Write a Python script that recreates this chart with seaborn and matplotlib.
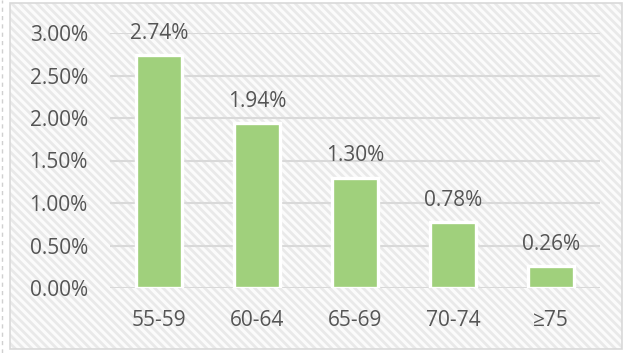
import matplotlib
matplotlib.use("Agg")
import matplotlib.pyplot as plt
import seaborn as sns
import pandas as pd
from matplotlib.patches import Rectangle
from matplotlib.lines import Line2D

# Data
age_groups = ["55-59", "60-64", "65-69", "70-74", "≥75"]
rates = [2.74, 1.94, 1.30, 0.78, 0.26]
y_ticks = [0.0, 0.5, 1.0, 1.5, 2.0, 2.5, 3.0]

df = pd.DataFrame({"age": age_groups, "rate": rates})

sns.set_theme(style="white")
plt.rcParams["font.family"] = ["Open Sans", "DejaVu Sans"]
plt.rcParams["hatch.linewidth"] = 2.0

W, H = 628, 353
fig = plt.figure(figsize=(W / 100, H / 100), dpi=100, facecolor="white")

# Striped chart-area background with a thin border
bg = Rectangle((10 / W, 1 - 349 / H), 612 / W, 346 / H, transform=fig.transFigure,
               facecolor="#fbfbfb", edgecolor="#e9e9e9", hatch="\\\\\\\\",
               linewidth=0, zorder=-2)
fig.patches.append(bg)
border = Rectangle((10 / W, 1 - 349 / H), 612 / W, 346 / H, transform=fig.transFigure,
                   facecolor="none", edgecolor="#d9d9d9", linewidth=1.2, zorder=-1)
fig.patches.append(border)
fig.lines.append(Line2D([1.5 / W, 1.5 / W], [0, 1], transform=fig.transFigure,
                        color="#d0d0d0", linewidth=1, linestyle=(0, (3, 3)), zorder=-1))

ax = fig.add_axes([110 / W, 65 / H, 490 / W, 255 / H])
ax.set_facecolor("none")

sns.barplot(data=df, x="age", y="rate", ax=ax, color="#a0d07c", saturation=1,
            width=0.46, edgecolor="white", linewidth=2.4, zorder=3)

ax.set_xlim(-0.5, 4.5)
ax.set_ylim(0, 3.0)
ax.set_yticks(y_ticks)
ax.set_yticklabels([f"{v:.2f}%" for v in y_ticks])
ax.yaxis.grid(True, color="#d9d9d9", linewidth=1.5)
ax.set_axisbelow(True)
for s in ax.spines.values():
    s.set_visible(False)
ax.tick_params(axis="both", length=0, labelsize=15, labelcolor="#555555")
ax.tick_params(axis="y", pad=16)
ax.tick_params(axis="x", pad=16)
ax.set_xlabel("")
ax.set_ylabel("")

for i, v in enumerate(rates):
    ax.annotate(f"{v:.2f}%", (i, v), xytext=(0, 8), textcoords="offset points",
                ha="center", va="bottom", fontsize=15, color="#555555")

fig.savefig("out.png", dpi=100, facecolor="white")
